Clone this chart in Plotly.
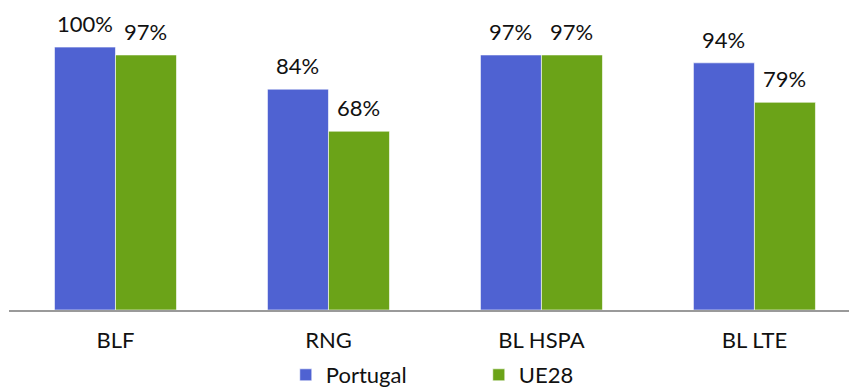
import plotly.graph_objects as go

categories = ["BLF", "RNG", "BL HSPA", "BL LTE"]
portugal = [100, 84, 97, 94]
ue28 = [97, 68, 97, 79]
series_names = ["Portugal", "UE28"]
colors = ["#4F62D2", "#6BA318"]

FONT = "Lato"
FS = 22

fig = go.Figure()
for name, vals, col in zip(series_names, [portugal, ue28], colors):
    fig.add_trace(go.Bar(
        x=categories, y=vals, name=name,
        marker=dict(color=col, line=dict(color="rgba(255,255,255,0.6)", width=1)),
        hoverinfo="skip",
    ))

annotations = []
for vals, shift in [(portugal, -30.5), (ue28, 30.5)]:
    for c, v in zip(categories, vals):
        annotations.append(dict(
            x=c, y=v, xref="x", yref="y", text=f"{v}%", showarrow=False,
            xshift=shift, yanchor="bottom", yshift=8,
            font=dict(family=FONT, size=FS, color="#111111"),
        ))

fig.update_layout(
    template="none",
    width=849, height=387,
    margin=dict(l=9, r=0, t=0, b=77, autoexpand=False),
    paper_bgcolor="white", plot_bgcolor="white",
    barmode="group", bargap=0.427, bargroupgap=0,
    font=dict(family=FONT, size=FS, color="#111111"),
    annotations=annotations,
    showlegend=True,
    legend=dict(
        orientation="h", x=0.3295, xanchor="left",
        yref="container", y=0.031, yanchor="middle",
        font=dict(family=FONT, size=FS, color="#111111"),
        entrywidth=148, entrywidthmode="pixels",
        bgcolor="rgba(0,0,0,0)",
    ),
    xaxis=dict(
        range=[-0.5, 3.444], showline=True, linecolor="#9a9a9a", linewidth=2,
        ticks="", showgrid=False, zeroline=False, ticklabelstandoff=10,
        automargin=False,
        tickfont=dict(family=FONT, size=FS, color="#111111"), fixedrange=True,
    ),
    yaxis=dict(
        range=[0, 117.9], visible=False, showgrid=False, zeroline=False,
        automargin=False, fixedrange=True,
    ),
)

fig.write_html("out.html")
